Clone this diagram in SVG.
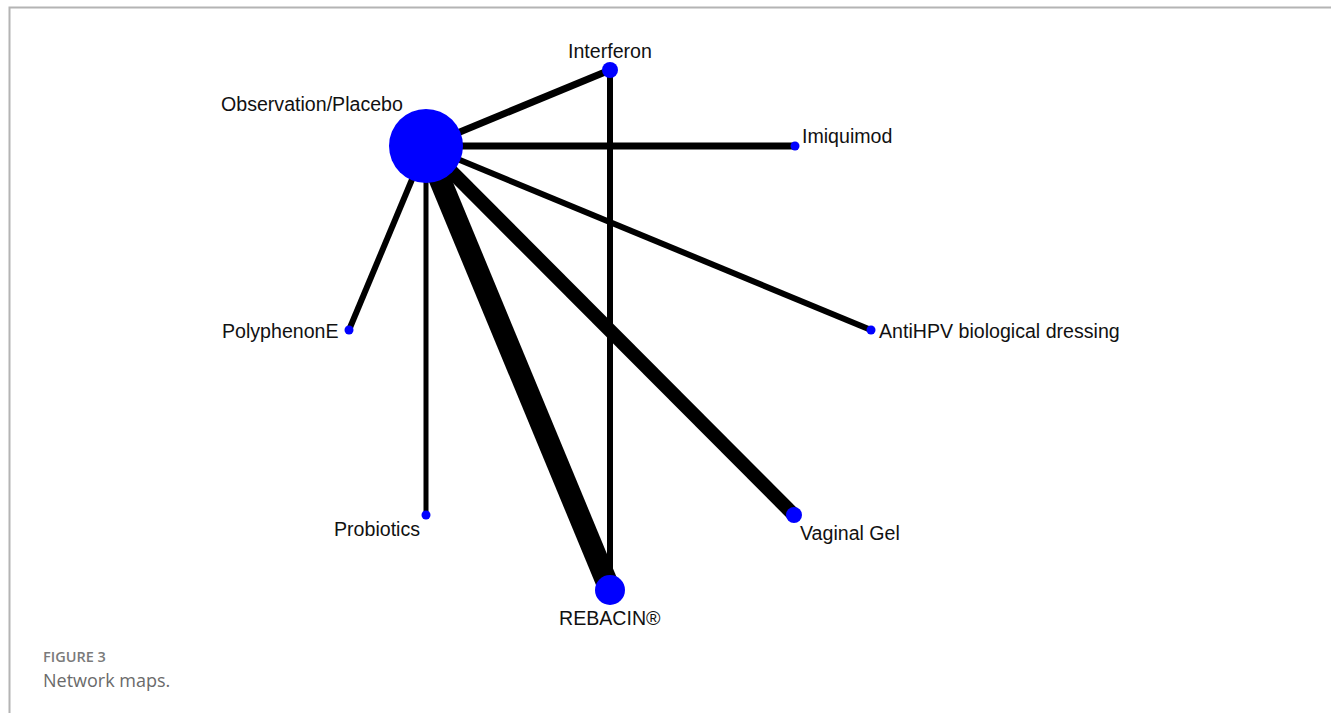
<svg xmlns="http://www.w3.org/2000/svg" width="1331" height="713" viewBox="0 0 1331 713">
<style>
.lbl{font-family:"Liberation Sans",Arial,sans-serif;font-size:19.6px;fill:#111}
.node{fill:#0000ff}
.edge{stroke:#000;stroke-linecap:butt;fill:none}
.frame{stroke:#b4b4b4;stroke-width:2;fill:none}
</style>
<rect width="1331" height="713" fill="#fff"/>
<path class="frame" d="M9.5,713 V7.5 H1331"/>
<g id="connectors">
<line class="edge" x1="426" y1="146" x2="610" y2="70" stroke-width="7"/>
<line class="edge" x1="426" y1="146" x2="795" y2="146" stroke-width="7"/>
<line class="edge" x1="426" y1="146" x2="871" y2="330" stroke-width="6"/>
<line class="edge" x1="426" y1="146" x2="794" y2="515" stroke-width="14"/>
<line class="edge" x1="426" y1="146" x2="610" y2="590" stroke-width="22"/>
<line class="edge" x1="426" y1="146" x2="426" y2="515" stroke-width="5"/>
<line class="edge" x1="426" y1="146" x2="349" y2="330" stroke-width="6"/>
<line class="edge" x1="610" y1="70" x2="610" y2="590" stroke-width="6"/>
</g>
<g id="obs"><circle class="node" cx="426" cy="146" r="37"/><text class="lbl" x="221" y="111">Observation/Placebo</text></g>
<g id="interferon"><circle class="node" cx="610" cy="70" r="8"/><text class="lbl" x="568" y="58">Interferon</text></g>
<g id="imiquimod"><circle class="node" cx="795" cy="146" r="4.5"/><text class="lbl" x="802" y="143">Imiquimod</text></g>
<g id="antihpv"><circle class="node" cx="871" cy="330" r="4.5"/><text class="lbl" x="879" y="338">AntiHPV biological dressing</text></g>
<g id="vaginal"><circle class="node" cx="794" cy="515" r="8"/><text class="lbl" x="800" y="540">Vaginal Gel</text></g>
<g id="rebacin"><circle class="node" cx="610" cy="590" r="15"/><text class="lbl" x="559" y="625">REBACIN®</text></g>
<g id="probiotics"><circle class="node" cx="426" cy="515" r="4.5"/><text class="lbl" x="334" y="536">Probiotics</text></g>
<g id="polyphenon"><circle class="node" cx="349" cy="330" r="4.5"/><text class="lbl" x="222" y="338">PolyphenonE</text></g>
<g id="caption">
<text x="43" y="662" font-family="'Open Sans',sans-serif" font-size="14.5" font-weight="600" fill="#7a7a7a">FIGURE 3</text>
<text x="43" y="687" font-family="'Open Sans',sans-serif" font-size="18" fill="#6a6a6a">Network maps.</text>
</g>
</svg>
